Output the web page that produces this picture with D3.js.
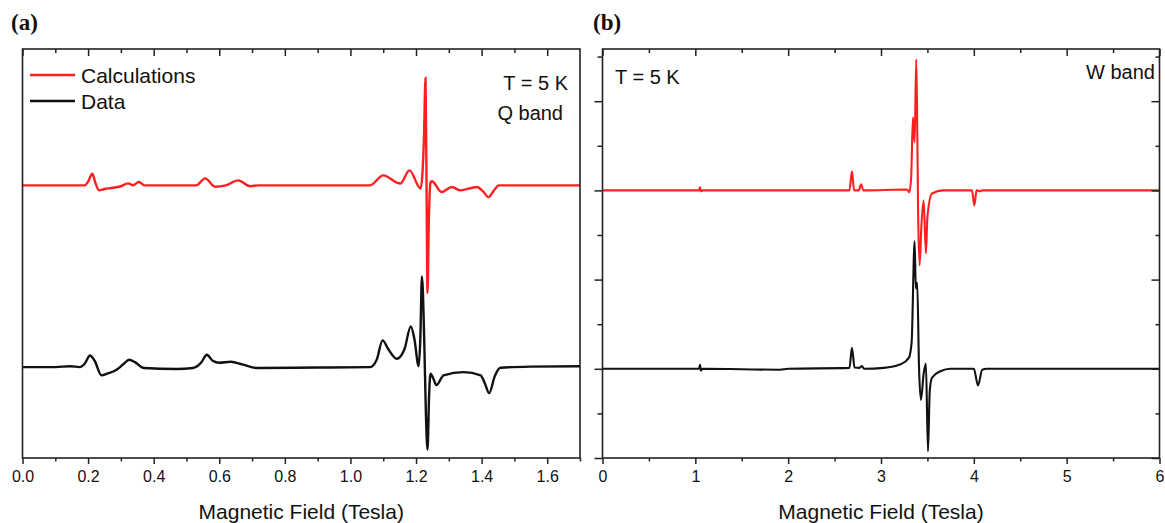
<!DOCTYPE html>
<html>
<head>
<meta charset="utf-8">
<script src="https://cdn.jsdelivr.net/npm/d3@7"></script>
<style>
  body { margin: 0; background: #fff; }
  svg { display: block; }
  text { font-family: "Liberation Sans", Arial, sans-serif; fill: #111; }
</style>
</head>
<body>
<svg id="chart" width="1165" height="523"></svg>
<script>
// Q band (panel a): [field in Tesla, signal in arbitrary units]
const qCalc = [
  [0.0, 0], [0.19, 0], [0.2, 0.04], [0.213, 0.128], [0.222, 0.03], [0.234, -0.055],
  [0.25, -0.04], [0.27, -0.03], [0.3, -0.01], [0.322, 0.022], [0.337, 0.0],
  [0.355, 0.036], [0.372, 0], [0.53, 0], [0.557, 0.077], [0.587, -0.015], [0.62, 0],
  [0.658, 0.055], [0.694, -0.01], [0.72, 0], [1.06, 0], [1.1, 0.11], [1.152, 0.02],
  [1.18, 0.165], [1.214, -0.035], [1.219, 0.1], [1.224, 0.5], [1.229, 1.185],
  [1.232, 0.0], [1.235, -1.185], [1.239, -0.4], [1.244, 0.03], [1.248, 0.045],
  [1.278, -0.073], [1.309, -0.018], [1.335, -0.055], [1.386, -0.018], [1.405, -0.07],
  [1.421, -0.13], [1.437, -0.06], [1.452, 0.0], [1.7, 0]
];
const qData = [
  [0.0, 0], [0.1, 0.0], [0.145, 0.01], [0.175, 0.0], [0.19, 0.04], [0.206, 0.128],
  [0.22, 0.07], [0.241, -0.091], [0.26, -0.07], [0.287, -0.03], [0.31, 0.04],
  [0.325, 0.081], [0.343, 0.055], [0.37, -0.01], [0.47, -0.02], [0.52, -0.01],
  [0.545, 0.05], [0.562, 0.136], [0.58, 0.07], [0.6, 0.048], [0.635, 0.059],
  [0.67, 0.03], [0.714, -0.01], [0.9, -0.005], [1.06, 0.0], [1.08, 0.08],
  [1.098, 0.294], [1.115, 0.2], [1.141, 0.092], [1.165, 0.2], [1.184, 0.448],
  [1.195, 0.31], [1.208, 0.01], [1.213, 0.3], [1.218, 0.998], [1.225, 0.3],
  [1.23, -0.5], [1.235, -0.909], [1.24, -0.3], [1.244, -0.073], [1.252, -0.12],
  [1.262, -0.198], [1.284, -0.09], [1.345, -0.055], [1.397, -0.09], [1.41, -0.18],
  [1.423, -0.286], [1.44, -0.1], [1.457, -0.007], [1.55, 0.005], [1.7, 0.01]
];

// W band (panel b)
const wCalc = [
  [0, 0], [1.04, 0], [1.05, 0.07], [1.06, -0.02], [1.08, 0], [2.66, 0], [2.687, 0.426],
  [2.71, 0.0], [2.76, 0], [2.787, 0.135], [2.81, 0], [3.28, 0.02], [3.305, -0.04],
  [3.325, 0.3], [3.344, 1.64], [3.362, 1.08], [3.38, 2.94], [3.39, 1.5], [3.4, -0.5],
  [3.416, -1.68], [3.435, -0.8], [3.459, -0.22], [3.484, -1.41], [3.5, -0.6],
  [3.549, -0.07], [3.67, 0], [3.98, 0], [4.005, -0.336], [4.03, 0], [4.07, -0.02],
  [4.09, 0], [6, 0]
];
const wData = [
  [0, 0], [1.04, 0], [1.05, 0.09], [1.06, -0.04], [1.08, 0], [1.91, -0.02], [2.0, 0],
  [2.66, 0.02], [2.687, 0.47], [2.715, 0.03], [2.765, 0.02], [2.794, 0.06], [2.82, 0.0],
  [3.03, 0.02], [3.21, 0.1], [3.3, 0.245], [3.33, 0.6], [3.362, 2.86], [3.375, 1.8],
  [3.39, 1.93], [3.41, 0.0], [3.43, -0.7], [3.46, -0.1], [3.484, 0.12], [3.506, -1.85],
  [3.525, -0.5], [3.549, -0.2], [3.64, -0.055], [3.75, 0], [4.0, 0], [4.045, -0.375],
  [4.09, -0.02], [4.14, 0.0], [6, 0.0]
];

const qMajor = [0, 0.2, 0.4, 0.6, 0.8, 1.0, 1.2, 1.4, 1.6];
const qMinor = [0.1, 0.3, 0.5, 0.7, 0.9, 1.1, 1.3, 1.5, 1.7];
const wMajor = [0, 1, 2, 3, 4, 5, 6];
const wMinor = [0.5, 1.5, 2.5, 3.5, 4.5, 5.5];
const wYMajor = [0, 2, 4, 6, 8];
const wYMinor = [1, 3, 5, 7, 9];

const RED = "#ff1f1f";
const BLACK = "#111";
const plotTop = 49, plotBottom = 458;

const svg = d3.select("#chart");

function drawPanel(opts) {
  const { left, right, xMax, yDomain, calc, data, calcOffset, dataOffset,
          major, minor, fmt, yMajor, yMinor, lineWidth, label, labelX } = opts;

  const x = d3.scaleLinear().domain([0, xMax]).range([left, right]);
  const y = d3.scaleLinear().domain(yDomain).range([plotBottom, plotTop]);
  const g = svg.append("g");

  const line = (offset) => d3.line()
    .x((d) => x(d[0]))
    .y((d) => y(d[1] + offset))
    .curve(d3.curveMonotoneX);

  // spectra, clipped to the frame
  const clipId = "clip-" + label.replace(/\W/g, "");
  svg.append("clipPath").attr("id", clipId)
    .append("rect").attr("x", left).attr("y", plotTop)
    .attr("width", right - left).attr("height", plotBottom - plotTop);

  const lines = g.append("g").attr("clip-path", `url(#${clipId})`);
  lines.append("path").datum(data)
    .attr("fill", "none").attr("stroke", BLACK).attr("stroke-width", lineWidth)
    .attr("stroke-linejoin", "round").attr("d", line(dataOffset));
  lines.append("path").datum(calc)
    .attr("fill", "none").attr("stroke", RED).attr("stroke-width", lineWidth)
    .attr("stroke-linejoin", "round").attr("d", line(calcOffset));

  // bottom axis, major with labels, minor without
  const bAxis = g.append("g").attr("transform", `translate(0,${plotBottom})`)
    .call(d3.axisBottom(x).tickValues(major).tickSize(6).tickPadding(7).tickFormat(fmt));
  g.append("g").attr("transform", `translate(0,${plotBottom})`)
    .call(d3.axisBottom(x).tickValues(minor).tickSize(3.5).tickFormat(""));
  bAxis.selectAll("text").attr("font-size", 16).style("font-family", "Liberation Sans, Arial, sans-serif")
    .attr("fill", "#111");

  // top axis, ticks pointing inward
  g.append("g").attr("transform", `translate(0,${plotTop})`)
    .call(d3.axisBottom(x).tickValues(major).tickSize(7).tickFormat(""));
  g.append("g").attr("transform", `translate(0,${plotTop})`)
    .call(d3.axisBottom(x).tickValues(minor.filter((v) => v < xMax)).tickSize(4).tickFormat(""));

  if (yMajor) {
    const lAxis = (vals, size) => d3.axisLeft(y).tickValues(vals).tickSize(size).tickFormat("");
    g.append("g").attr("transform", `translate(${left},0)`).call(lAxis(yMajor, 8));
    g.append("g").attr("transform", `translate(${left},0)`).call(lAxis(yMinor, 5));
    g.append("g").attr("transform", `translate(${right},0)`).call(lAxis(yMajor, 8));
    g.append("g").attr("transform", `translate(${right},0)`).call(lAxis(yMinor, 4));
  }

  g.selectAll(".domain").remove();
  g.selectAll(".tick line").attr("stroke", "#222").attr("stroke-width", 1.5);

  g.append("rect")
    .attr("x", left).attr("y", plotTop)
    .attr("width", right - left).attr("height", plotBottom - plotTop)
    .attr("fill", "none").attr("stroke", "#222").attr("stroke-width", 1.6);

  // axis title
  g.append("text")
    .attr("x", (left + right) / 2).attr("y", 519)
    .attr("text-anchor", "middle").attr("font-size", 21)
    .text("Magnetic Field (Tesla)");

  // panel letter
  svg.append("text")
    .attr("x", labelX).attr("y", 30)
    .style("font-family", "Liberation Serif, Times New Roman, serif")
    .attr("font-weight", "bold").attr("font-size", 23)
    .text(label);

  return { x, y, g };
}

const a = drawPanel({
  left: 22.5, right: 580, xMax: 1.7, yDomain: [-1, 3.5],
  calc: qCalc, data: qData, calcOffset: 2, dataOffset: 0,
  major: qMajor, minor: qMinor, fmt: d3.format(".1f"),
  lineWidth: 2.4, label: "(a)", labelX: 11
});

const b = drawPanel({
  left: 602.5, right: 1159.5, xMax: 6, yDomain: [0, 9.17],
  calc: wCalc, data: wData, calcOffset: 6, dataOffset: 2,
  major: wMajor, minor: wMinor, fmt: d3.format("d"),
  yMajor: wYMajor, yMinor: wYMinor,
  lineWidth: 2.1, label: "(b)", labelX: 593
});

// legend in panel a
const legend = a.g.append("g");
const legendItems = [["Calculations", RED, 75], ["Data", BLACK, 101]];
legendItems.forEach(([name, color, ly]) => {
  legend.append("line").attr("x1", 30).attr("x2", 75).attr("y1", ly).attr("y2", ly)
    .attr("stroke", color).attr("stroke-width", 2.3);
  legend.append("text").attr("x", 81).attr("y", ly + 7.5).attr("font-size", 21).text(name);
});

// annotations
a.g.append("text").attr("x", 568).attr("y", 90).attr("text-anchor", "end")
  .attr("font-size", 20).text("T = 5 K");
a.g.append("text").attr("x", 563).attr("y", 120).attr("text-anchor", "end")
  .attr("font-size", 20).text("Q band");
b.g.append("text").attr("x", 615).attr("y", 84)
  .attr("font-size", 20).text("T = 5 K");
b.g.append("text").attr("x", 1155).attr("y", 79).attr("text-anchor", "end")
  .attr("font-size", 20).text("W band");
</script>
</body>
</html>
